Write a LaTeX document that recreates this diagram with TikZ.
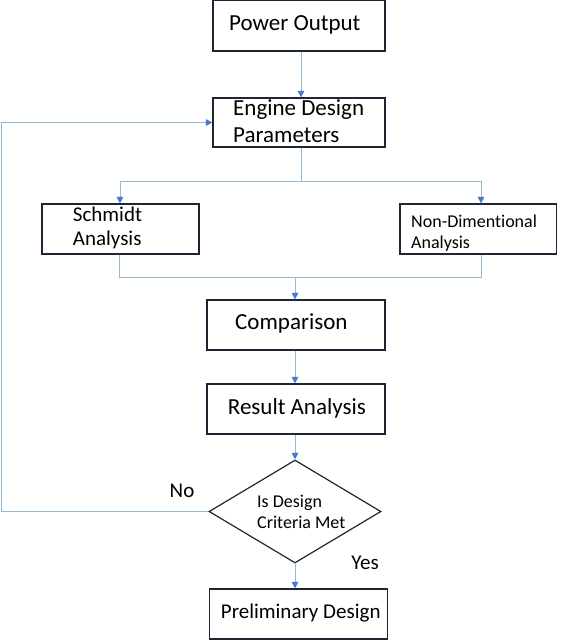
\documentclass[tikz,border=0pt]{standalone}
\usepackage{fontspec}
\setmainfont{Carlito}[Ligatures={NoCommon}]
\usetikzlibrary{arrows.meta,shapes.geometric}
\definecolor{edgeblue}{RGB}{150,185,210}
\definecolor{tipblue}{RGB}{70,120,210}
\definecolor{boxline}{RGB}{30,38,52}
\newcommand{\fbig}{\fontsize{23}{27}\selectfont}
\newcommand{\fmid}{\fontsize{21}{24}\selectfont}
\newcommand{\fsml}{\fontsize{18}{21}\selectfont}
\begin{document}
\begin{tikzpicture}[x=1pt,y=-1pt,
  box/.style={draw=boxline, line width=1.2pt, rectangle, inner sep=0pt},
  txt/.style={anchor=west, align=left, inner sep=0pt, text=black},
  conn/.style={draw=edgeblue, line width=1pt},
  arr/.style={conn, -{Triangle[length=6.5pt,width=6.5pt,color=tipblue,fill=tipblue]}}]
\useasboundingbox (0,0) rectangle (560,640);

% boxes
\node[box, minimum width=172pt, minimum height=50.5pt] (pow) at (299,25.75) {};
\node[box, minimum width=172pt, minimum height=49pt] (eng) at (299,122.5) {};
\node[box, minimum width=157pt, minimum height=50pt] (sch) at (120.5,229) {};
\node[box, minimum width=156.5pt, minimum height=50pt] (non) at (478.25,229) {};
\node[box, minimum width=178pt, minimum height=50pt] (cmp) at (296,325) {};
\node[box, minimum width=178pt, minimum height=50pt] (res) at (296,409) {};
\node[box, diamond, minimum width=172pt, minimum height=103pt] (dia) at (295,511.5) {};
\node[box, minimum width=178.4pt, minimum height=50pt] (pre) at (298.5,614) {};

% texts
\node[txt, font=\fbig] (powT) at (229,25) {Power Output};
\node[txt, font=\fbig] (engT) at (233,121.5) {Engine Design\\Parameters};
\node[txt, font=\fmid] (schT) at (72.7,228) {Schmidt\\Analysis};
\node[txt, font=\fsml] (nonT) at (411,233.5) {Non-Dimentional\\Analysis};
\node[txt, font=\fbig] (cmpT) at (235,323.5) {Comparison};
\node[txt, font=\fbig] (resT) at (227.7,408.5) {Result Analysis};
\node[txt, font=\fsml] (diaT) at (257,512) {Is Design\\Criteria Met};
\node[txt, font=\fmid] (preT) at (220.7,613) {Preliminary Design};
\node[inner sep=0pt, font=\fmid] (no) at (182,491) {No};
\node[inner sep=0pt, font=\fmid] (yes) at (365,563) {Yes};

% helper points
\coordinate (split) at (301,181.5);
\coordinate (merge) at (295,277);
\coordinate (fbL) at (1.5,511.5);

% connectors
\draw[arr] ([xshift=2pt]pow.south) -- ([xshift=2pt]eng.north);
\draw[conn] ([xshift=2pt]eng.south) -- (split);
\draw[arr] (split) -| ([xshift=-0.5pt]sch.north);
\draw[arr] (split) -| ([xshift=2.75pt]non.north);
\draw[conn] ([xshift=-1.5pt]sch.south) |- (merge);
\draw[conn] ([xshift=3.25pt]non.south) |- (merge);
\draw[arr] (merge) -- ([xshift=-1pt]cmp.north);
\draw[arr] ([xshift=-1pt]cmp.south) -- ([xshift=-1pt]res.north);
\draw[arr] ([xshift=-1pt]res.south) -- (dia.north);
\draw[arr] (dia.south) -- ([xshift=-3.5pt]pre.north);
\draw[arr] (dia.west) -- (fbL) |- (eng.west);
\end{tikzpicture}
\end{document}
